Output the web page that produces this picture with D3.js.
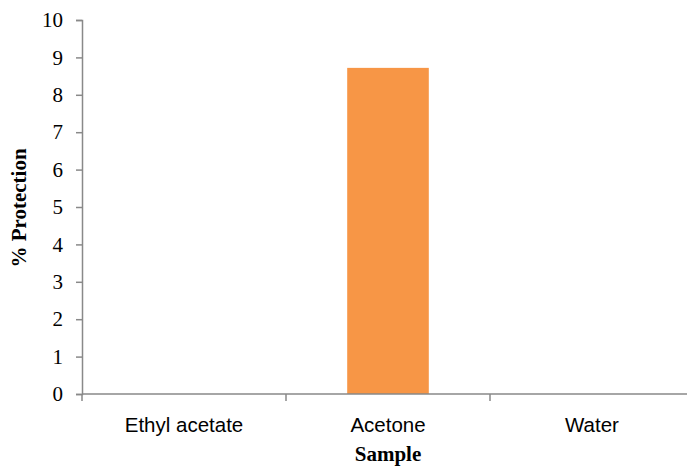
<!DOCTYPE html>
<html>
<head>
<meta charset="utf-8">
<script src="https://cdn.jsdelivr.net/npm/d3@7"></script>
<style>
  html, body { margin: 0; padding: 0; background: #fff; overflow: hidden; }
  svg { display: block; }
</style>
</head>
<body>
<svg id="chart" width="687" height="466"></svg>
<script>
// Samples and their % protection
const categories = ["Ethyl acetate", "Acetone", "Water"];
const protection = [0, 8.72, 0];
const yTicks = [0, 1, 2, 3, 4, 5, 6, 7, 8, 9, 10];

const svg = d3.select("#chart");
const axisColor = "#898989";
const plotLeft = 82, plotRight = 694, plotTop = 20, plotBottom = 394;

const x = d3.scaleBand().domain(categories).range([plotLeft, plotRight]).padding(0);
const y = d3.scaleLinear().domain([0, 10]).range([plotBottom, plotTop]);

// Bars
const barFrac = 0.4;
svg.append("g").selectAll("rect")
  .data(categories.map((c, i) => ({ c, v: protection[i] })))
  .join("rect")
  .attr("x", d => x(d.c) + x.bandwidth() * (1 - barFrac) / 2)
  .attr("width", x.bandwidth() * barFrac)
  .attr("y", d => y(d.v))
  .attr("height", d => y(0) - y(d.v))
  .attr("fill", "#F79646");

// Y axis
const yAxis = svg.append("g")
  .attr("transform", `translate(${plotLeft},0)`)
  .call(d3.axisLeft(y).tickValues(yTicks).tickSize(6).tickPadding(13).tickFormat(d3.format("d")));
yAxis.select(".domain").attr("stroke", axisColor).attr("stroke-width", 1.5);
yAxis.selectAll(".tick line").attr("stroke", axisColor).attr("stroke-width", 1.5);
yAxis.selectAll(".tick text")
  .attr("fill", "#000")
  .style("font-family", "'Liberation Serif', 'Times New Roman', serif")
  .style("font-size", "21px");

// X axis: baseline, boundary ticks and category labels
const xg = svg.append("g");
xg.append("line")
  .attr("x1", plotLeft).attr("x2", plotRight)
  .attr("y1", y(0)).attr("y2", y(0))
  .attr("stroke", axisColor).attr("stroke-width", 1.5);
const bounds = categories.map(c => x(c)).concat([x(categories[categories.length - 1]) + x.bandwidth()]);
xg.selectAll("line.tk").data(bounds).join("line")
  .attr("class", "tk")
  .attr("x1", d => d).attr("x2", d => d)
  .attr("y1", y(0)).attr("y2", y(0) + 7)
  .attr("stroke", axisColor).attr("stroke-width", 1.5);
xg.selectAll("text").data(categories).join("text")
  .attr("x", d => x(d) + x.bandwidth() / 2)
  .attr("y", 432)
  .attr("text-anchor", "middle")
  .attr("fill", "#000")
  .style("font-family", "'Liberation Sans', Arial, sans-serif")
  .style("font-size", "20.5px")
  .text(d => d);

// Axis titles
svg.append("text")
  .attr("x", x("Acetone") + x.bandwidth() / 2)
  .attr("y", 461)
  .attr("text-anchor", "middle")
  .style("font-family", "'Liberation Serif', 'Times New Roman', serif")
  .style("font-size", "21px")
  .style("font-weight", "bold")
  .text("Sample");

svg.append("text")
  .attr("transform", "translate(26,208) rotate(-90)")
  .attr("text-anchor", "middle")
  .style("font-family", "'Liberation Serif', 'Times New Roman', serif")
  .style("font-size", "21px")
  .style("font-weight", "bold")
  .text("% Protection");
</script>
</body>
</html>
